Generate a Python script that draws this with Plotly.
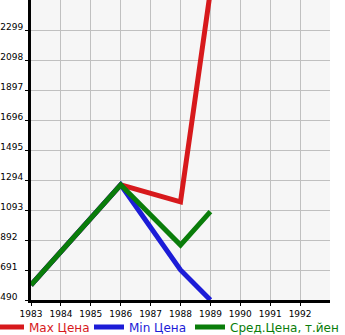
import plotly.graph_objects as go

years = [1983, 1986, 1988, 1989]
max_price = [590, 1262, 1148, 2560]
min_price = [590, 1262, 691, 490]
avg_price = [590, 1262, 858, 1082]

x_ticks = list(range(1983, 1993))
y_ticks = [490, 691, 892, 1093, 1294, 1495, 1696, 1897, 2098, 2299]

series = [
    ("Max Цена", max_price, "#d7191c", "legend", -11),
    ("Min Цена", min_price, "#1c1cd7", "legend2", 89),
    ("Сред.Цена, т.йен", avg_price, "#0a7d0a", "legend3", 190),
]

W, H = 345, 335
L, R, T, B = 31, 15, 0, 35
PW = W - L - R

fig = go.Figure()
legends = {}
for name, vals, col, leg, px in series:
    fig.add_trace(go.Scatter(
        x=years, y=vals, name=name, mode="lines",
        line=dict(color=col, width=5),
        legend=leg, showlegend=True,
    ))
    legends[leg] = dict(
        xref="paper", yref="container",
        x=(px - L) / PW, y=8 / H, xanchor="left", yanchor="middle",
        font=dict(size=12, color=col, family="DejaVu Sans"),
        itemwidth=30, bgcolor="rgba(0,0,0,0)", borderwidth=0,
    )


def lab(v):
    s = str(v)
    return s + "\u00a0" * (2 * (4 - len(s)))


fig.update_layout(
    width=W, height=H,
    margin=dict(l=L, r=R, t=T, b=B, autoexpand=False),
    paper_bgcolor="white",
    plot_bgcolor="#f6f6f6",
    font=dict(family="DejaVu Sans", size=9, color="black"),
    showlegend=True,
    xaxis=dict(
        range=[1983, 1993], tickvals=x_ticks, ticktext=[str(v) for v in x_ticks],
        showgrid=True, gridcolor="#c0c0c0", gridwidth=1,
        showline=True, linecolor="black", linewidth=3,
        ticks="outside", ticklen=3, tickcolor="black", tickwidth=1,
        zeroline=False, fixedrange=True,
    ),
    yaxis=dict(
        range=[490, 2500], tickvals=y_ticks, ticktext=[lab(v) for v in y_ticks],
        showgrid=True, gridcolor="#c0c0c0", gridwidth=1,
        showline=True, linecolor="black", linewidth=3,
        ticks="outside", ticklen=3, tickcolor="black", tickwidth=1,
        zeroline=False, fixedrange=True, ticklabelshift=-3,
    ),
    **legends,
)

fig.write_html("out.html")
